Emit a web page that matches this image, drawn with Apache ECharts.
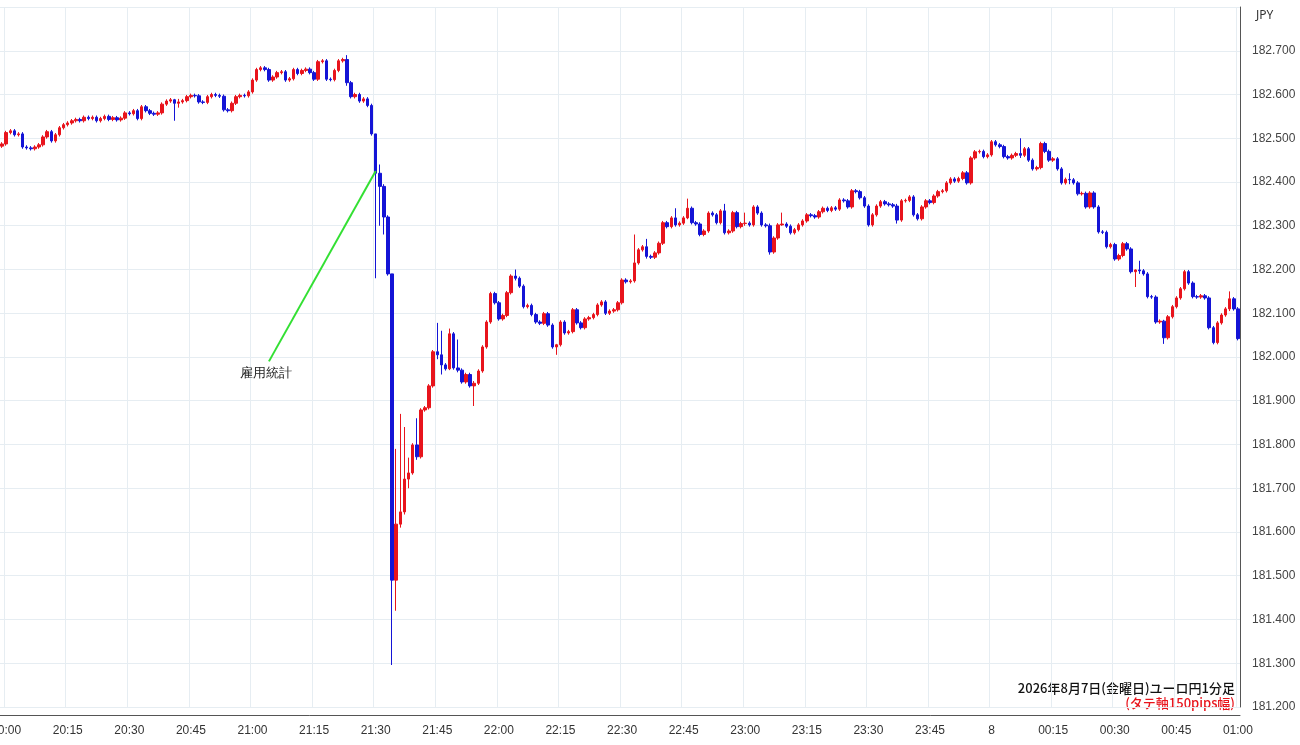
<!DOCTYPE html>
<html>
<head>
<meta charset="utf-8">
<script src="https://cdn.jsdelivr.net/npm/echarts@6/dist/echarts.min.js"></script>
<style>
  html, body { margin: 0; padding: 0; background: #fff; }
  #main { width: 1300px; height: 745px; }
</style>
</head>
<body>
<div id="main"></div>
<script>
// ユーロ円 1分足 (19:59 〜 01:00)
const startTime = '19:59'
const firstOpen = 182.482
const closes = [
  182.487, 182.513, 182.517, 182.508, 182.510, 182.480, 182.478, 182.476, 182.480, 182.485,
  182.503, 182.515, 182.494, 182.508, 182.524, 182.531, 182.535, 182.540, 182.543, 182.540,
  182.548, 182.545, 182.548, 182.540, 182.545, 182.550, 182.543, 182.547, 182.542, 182.546,
  182.558, 182.556, 182.563, 182.545, 182.572, 182.563, 182.557, 182.555, 182.558, 182.578,
  182.585, 182.588, 182.580, 182.583, 182.586, 182.595, 182.598, 182.597, 182.583, 182.582,
  182.595, 182.600, 182.598, 182.596, 182.565, 182.563, 182.580, 182.595, 182.598, 182.597,
  182.606, 182.633, 182.657, 182.661, 182.657, 182.633, 182.640, 182.650, 182.652, 182.633,
  182.636, 182.657, 182.648, 182.655, 182.658, 182.650, 182.635, 182.675, 182.677, 182.635,
  182.634, 182.655, 182.677, 182.680, 182.627, 182.595, 182.600, 182.585, 182.590, 182.575,
  182.510, 182.420, 182.390, 182.320, 182.190, 181.490, 181.618, 181.646, 181.721, 181.735,
  181.799, 181.772, 181.879, 181.884, 181.934, 182.012, 182.005, 181.982, 181.973, 182.053,
  181.975, 181.970, 181.943, 181.960, 181.934, 181.940, 181.968, 182.023, 182.080, 182.145,
  182.124, 182.087, 182.095, 182.147, 182.185, 182.180, 182.162, 182.115, 182.118, 182.097,
  182.080, 182.077, 182.099, 182.073, 182.023, 182.028, 182.080, 182.055, 182.058, 182.108,
  182.078, 182.067, 182.087, 182.090, 182.097, 182.119, 182.126, 182.100, 182.105, 182.108,
  182.124, 182.176, 182.172, 182.174, 182.215, 182.245, 182.252, 182.230, 182.228, 182.238,
  182.260, 182.307, 182.298, 182.318, 182.302, 182.306, 182.318, 182.340, 182.307, 182.304,
  182.280, 182.288, 182.329, 182.325, 182.307, 182.334, 182.284, 182.288, 182.330, 182.298,
  182.305, 182.306, 182.302, 182.343, 182.329, 182.302, 182.300, 182.240, 182.272, 182.302,
  182.304, 182.299, 182.284, 182.291, 182.302, 182.311, 182.325, 182.323, 182.320, 182.332,
  182.340, 182.335, 182.341, 182.338, 182.359, 182.357, 182.343, 182.380, 182.378, 182.364,
  182.345, 182.302, 182.325, 182.345, 182.355, 182.350, 182.348, 182.345, 182.313, 182.357,
  182.358, 182.366, 182.325, 182.316, 182.343, 182.357, 182.353, 182.368, 182.378, 182.380,
  182.398, 182.407, 182.402, 182.408, 182.421, 182.398, 182.455, 182.469, 182.470, 182.458,
  182.462, 182.492, 182.485, 182.481, 182.458, 182.455, 182.461, 182.465, 182.461, 182.476,
  182.450, 182.430, 182.433, 182.488, 182.470, 182.450, 182.453, 182.430, 182.398, 182.406,
  182.405, 182.398, 182.373, 182.374, 182.343, 182.375, 182.343, 182.286, 182.285, 182.252,
  182.257, 182.224, 182.232, 182.259, 182.247, 182.195, 182.199, 182.197, 182.190, 182.138,
  182.137, 182.080, 182.082, 182.044, 182.092, 182.115, 182.135, 182.156, 182.195, 182.169,
  182.138, 182.137, 182.140, 182.135, 182.067, 182.033, 182.078, 182.096, 182.110, 182.133,
  182.110, 182.042
]
// 目立つヒゲ (足の番号: [安値, 高値])
const wicks = {
  42: [182.540, 182.590], 43: [182.570, 182.590], 84: [182.620, 182.690],
  91: [182.180, 182.510], 92: [182.300, 182.440], 93: [182.280, 182.395],
  95: [181.296, 182.190], 96: [181.420, 181.790], 97: [181.610, 181.870],
  98: [181.640, 181.840], 99: [181.700, 181.770], 101: [181.765, 181.860],
  106: [181.995, 182.078], 107: [181.960, 182.060], 109: [181.970, 182.065],
  111: [181.965, 182.040], 115: [181.888, 181.945], 125: [182.175, 182.200],
  135: [182.005, 182.030], 154: [182.170, 182.280], 157: [182.225, 182.270],
  164: [182.298, 182.340], 167: [182.315, 182.362], 176: [182.280, 182.350],
  181: [182.300, 182.330], 187: [182.234, 182.305], 190: [182.300, 182.330],
  218: [182.305, 182.350], 248: [182.455, 182.500], 260: [182.395, 182.420],
  276: [182.160, 182.200], 277: [182.190, 182.220], 283: [182.030, 182.085],
  299: [182.105, 182.150]
}
const yTicks = { min: 181.2, max: 182.8, step: 0.1 }
const titleText = '2026年8月7日(金曜日)ユーロ円1分足'
const subText = '(タテ軸150pips幅)'
const noteText = '雇用統計'

const upColor = '#e8141c'
const downColor = '#1414d6'

function timeLabel(i) {
  const [h, m] = startTime.split(':').map(Number)
  const t = (h * 60 + m + i) % 1440
  return String(Math.floor(t / 60)).padStart(2, '0') + ':' + String(t % 60).padStart(2, '0')
}

const times = closes.map((c, i) => timeLabel(i))
const candles = closes.map((c, i) => {
  const o = i === 0 ? firstOpen : closes[i - 1]
  const w = wicks[i]
  const lo = w ? w[0] : Math.min(o, c) - 0.004
  const hi = w ? w[1] : Math.max(o, c) + 0.004
  return [o, c, lo, hi]
})

const showTick = (idx, val) => val.endsWith(':00') || val.endsWith(':15') || val.endsWith(':30') || val.endsWith(':45')

const chart = echarts.init(document.getElementById('main'))
chart.setOption({
  animation: false,
  backgroundColor: '#fff',
  grid: { left: 0, right: 60, top: 7, bottom: 38, containLabel: false, outerBoundsMode: 'none' },
  xAxis: {
    type: 'category',
    data: times,
    offset: 8,
    axisLine: { lineStyle: { color: '#555' } },
    axisTick: { show: false },
    axisLabel: {
      interval: showTick,
      color: '#333',
      fontSize: 12,
      margin: 10,
      hideOverlap: false,
      formatter: v => v === '00:00' ? '8' : v
    },
    splitLine: { show: true, interval: showTick, lineStyle: { color: '#e6edf2' } }
  },
  yAxis: {
    type: 'value',
    position: 'right',
    min: yTicks.min,
    max: yTicks.max,
    interval: yTicks.step,
    axisLine: { show: true, lineStyle: { color: '#555' } },
    axisTick: { show: false },
    axisLabel: {
      color: '#444',
      fontSize: 12,
      margin: 12,
      showMaxLabel: false,
      formatter: v => v.toFixed(3)
    },
    splitLine: { lineStyle: { color: '#e6edf2' } }
  },
  series: [{
    type: 'candlestick',
    data: candles,
    barWidth: 3,
    itemStyle: {
      color: upColor, color0: downColor,
      borderColor: upColor, borderColor0: downColor,
      borderWidth: 1
    },
    markLine: {
      silent: true,
      symbol: 'none',
      lineStyle: { color: '#33e033', width: 2, type: 'solid' },
      label: {
        show: true,
        position: 'start',
        formatter: noteText,
        color: '#222',
        fontSize: 13,
        distance: 6
      },
      data: [[
        { coord: [times[65], 181.99] },
        { coord: [times[91], 182.425] }
      ]]
    }
  }],
  graphic: [
    { type: 'text', right: 65, top: 682, style: { text: titleText, fill: '#111', font: '500 13px "Noto Sans CJK JP"' } },
    { type: 'text', right: 65, top: 697, style: { text: subText, fill: '#e8141c', font: '500 13px "Noto Sans CJK JP"' } },
    { type: 'text', left: 1256, top: 10, style: { text: 'JPY', fill: '#333', font: '12px "Noto Sans"' } }
  ]
})
</script>
</body>
</html>
